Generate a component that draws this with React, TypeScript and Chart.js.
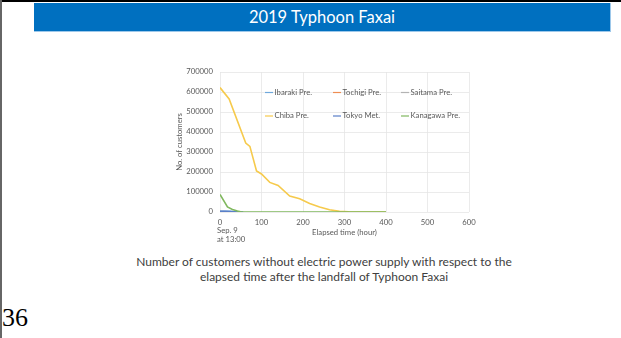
import React, { useEffect, useRef } from 'react';
import { Chart, registerables } from 'chart.js';

Chart.register(...registerables);

// ---- Data ----
const seriesNames = ['Ibaraki Pre.', 'Tochigi Pre.', 'Saitama Pre.', 'Chiba Pre.', 'Tokyo Met.', 'Kanagawa Pre.'];
const seriesColors = ['#6FA8DC', '#EE8D52', '#B3B3B3', '#F6CA4C', '#5A7FC8', '#80B85E'];

const ibarakiHours = [0, 12, 24, 36, 48];
const ibarakiCustomers = [4000, 4000, 3000, 1000, 0];

const tochigiHours = [0, 12, 24, 36];
const tochigiCustomers = [1500, 1000, 300, 0];

const saitamaHours = [0, 12, 24, 36];
const saitamaCustomers = [2000, 1200, 400, 0];

const chibaHours = [0, 22, 62, 72, 88, 100, 120, 140, 168, 192, 216, 240, 264, 288, 310, 400];
const chibaCustomers = [622000, 565000, 345000, 328000, 205000, 190000, 148000, 133000, 80000, 66000, 43000, 25000, 11000, 3000, 500, 0];

const tokyoHours = [0, 12, 24, 36, 48, 56];
const tokyoCustomers = [3500, 3000, 2500, 1500, 500, 0];

const kanagawaHours = [0, 18, 30, 42, 52, 100, 200, 300, 400];
const kanagawaCustomers = [88000, 25000, 13000, 5000, 0, 0, 0, 0, 0];

const seriesHours = [ibarakiHours, tochigiHours, saitamaHours, chibaHours, tokyoHours, kanagawaHours];
const seriesCustomers = [ibarakiCustomers, tochigiCustomers, saitamaCustomers, chibaCustomers, tokyoCustomers, kanagawaCustomers];

const xMin = 0;
const xMax = 600;
const xStep = 100;
const yMin = 0;
const yMax = 700000;
const yStep = 100000;

const xAxisTitle = 'Elapsed time (hour)';
const yAxisTitle = 'No. of customers';
const startNote = ['Sep. 9', 'at 13:00'];

const slideTitle = '2019 Typhoon Faxai';
const captionLines = [
  'Number of customers without electric power supply with respect to the',
  'elapsed time after the landfall of Typhoon Faxai',
];
const pageNumber = '36';

// ---- Styles ----
const FONT = 'Lato, "Open Sans", sans-serif';
const TICK_SIZE = 7.7;
const TEXT_COLOR = '#595959';

const legendColX = [45, 113, 181];
const legendRowY = [20.5, 44];

const overlayPlugin = {
  id: 'overlay',
  afterDraw(chart: any) {
    const { ctx, chartArea, scales } = chart;
    ctx.save();
    ctx.font = `${TICK_SIZE}px ${FONT}`;
    ctx.fillStyle = TEXT_COLOR;
    ctx.textBaseline = 'middle';
    ctx.textAlign = 'left';
    chart.data.datasets.forEach((ds: any, i: number) => {
      const col = i % 3;
      const row = Math.floor(i / 3);
      const x = chartArea.left + legendColX[col];
      const y = chartArea.top + legendRowY[row];
      ctx.strokeStyle = ds.borderColor;
      ctx.lineWidth = 1.2;
      ctx.beginPath();
      ctx.moveTo(x, y);
      ctx.lineTo(x + 8, y);
      ctx.stroke();
      ctx.fillText(ds.label, x + 9.5, y);
    });
    const x0 = scales.x.getPixelForValue(0);
    ctx.fillText(startNote[0], x0 - 3, scales.x.top + 19);
    ctx.fillText(startNote[1], x0 - 3, scales.x.top + 28);
    ctx.restore();
  },
};

function ChartBox() {
  const ref = useRef<HTMLCanvasElement | null>(null);
  useEffect(() => {
    if (!ref.current) return;
    const datasets = seriesNames.map((name, i) => ({
      label: name,
      data: seriesHours[i].map((h, j) => ({ x: h, y: seriesCustomers[i][j] })),
      borderColor: seriesColors[i],
      backgroundColor: seriesColors[i],
      borderWidth: 1.6,
      pointRadius: 0,
      tension: 0,
      fill: false,
      order: seriesNames.length - i,
    }));
    const tickFont = { family: FONT, size: TICK_SIZE };
    const chart = new Chart(ref.current, {
      type: 'line',
      data: { datasets },
      options: {
        animation: false,
        responsive: false,
        maintainAspectRatio: false,
        devicePixelRatio: 1,
        layout: { padding: { top: 12, right: 16, bottom: 0, left: 0 } },
        plugins: { legend: { display: false }, tooltip: { enabled: false } },
        scales: {
          x: {
            type: 'linear',
            min: xMin,
            max: xMax,
            ticks: { stepSize: xStep, padding: 6, font: tickFont, color: TEXT_COLOR, maxRotation: 0, callback: (v: any) => String(v) },
            grid: { color: '#e6e6e6', lineWidth: 0.8, drawTicks: false },
            border: { display: false },
            title: { display: true, text: xAxisTitle, font: tickFont, color: TEXT_COLOR, padding: { top: 0, bottom: 12.4 } },
            afterFit: (s: any) => { s.height = 38; },
          },
          y: {
            type: 'linear',
            min: yMin,
            max: yMax,
            ticks: { stepSize: yStep, padding: 7, font: tickFont, color: TEXT_COLOR, callback: (v: any) => String(v) },
            grid: { color: '#e6e6e6', lineWidth: 0.8, drawTicks: false },
            border: { display: false },
            title: { display: true, text: yAxisTitle, font: tickFont, color: TEXT_COLOR, padding: { top: 25, bottom: 0 } },
            afterFit: (s: any) => { s.width = 70; },
          },
        },
      } as any,
      plugins: [overlayPlugin],
    });
    return () => chart.destroy();
  }, []);
  return (
    <canvas
      ref={ref}
      width={335}
      height={190}
      style={{ position: 'absolute', left: 150, top: 60, width: 335, height: 190 }}
    />
  );
}

export default function App() {
  return (
    <div style={{ position: 'absolute', left: 0, top: 0, width: 621, height: 338, background: '#fff', overflow: 'hidden' }}>
      <div style={{ position: 'absolute', left: 0, top: 0, width: 621, height: 2, background: '#000' }} />
      <div style={{ position: 'absolute', left: 0, top: 0, width: 2, height: 338, background: '#666' }} />
      <div
        style={{
          position: 'absolute', left: 34, top: 3, width: 576, height: 28,
          background: '#0070C0', borderBottom: '1px solid #9DC8EA', borderRight: '1px solid #9DC8EA',
          color: '#fff', fontFamily: FONT, fontSize: 16.5, lineHeight: '28px', textAlign: 'center',
        }}
      >
        {slideTitle}
      </div>
      <ChartBox />
      <div
        style={{
          position: 'absolute', left: 24, top: 254, width: 600, textAlign: 'center',
          fontFamily: FONT, fontSize: 12, lineHeight: '15px', color: '#404040',
        }}
      >
        {captionLines[0]}
        <br />
        {captionLines[1]}
      </div>
      <div
        style={{
          position: 'absolute', left: 2, top: 305, fontFamily: '"Liberation Serif", "Times New Roman", serif',
          fontSize: 26, lineHeight: '26px', color: '#000',
        }}
      >
        {pageNumber}
      </div>
    </div>
  );
}
